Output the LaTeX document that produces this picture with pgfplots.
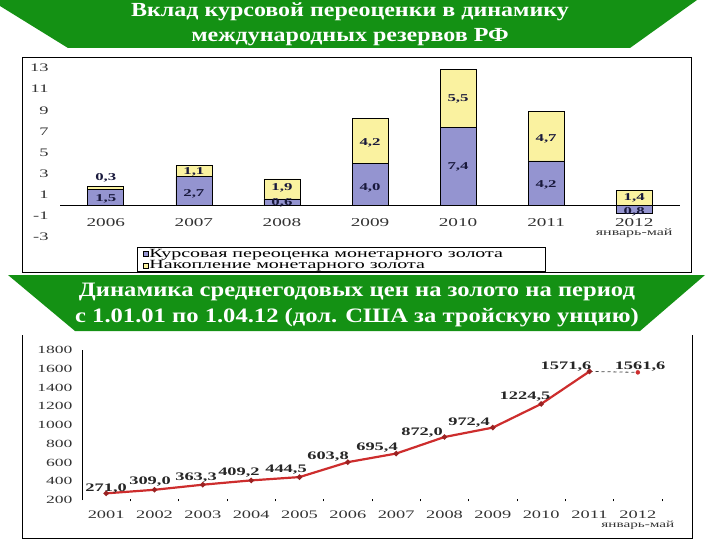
\documentclass[border=0pt]{standalone}
\usepackage{fontspec}
\setmainfont{Liberation Serif}
\newfontfamily\wide[FakeStretch=1.6]{Liberation Serif}
\newfontfamily\bwide[FakeStretch=1.2]{Liberation Serif}
\usepackage{pgfplots}
\pgfplotsset{compat=1.18}
\usepackage{pgfplotstable}

\definecolor{bannergreen}{RGB}{20,145,20}
\definecolor{barblue}{RGB}{148,148,208}
\definecolor{baryellow}{RGB}{250,242,160}
\definecolor{goldred}{RGB}{205,45,45}
\definecolor{lbl}{RGB}{25,25,60}

% total height of each bar (yellow drawn first), blue part drawn on top
\pgfplotstableread{
x total blue
0 1.8 1.5
1 3.8 2.7
2 2.5 0.6
3 8.2 4.0
4 12.9 7.4
5 8.9 4.2
6 1.4 -0.8
}\bars

\pgfplotstableread{
x y lab
0 2.6 0,3
0 0.6 1,5
1 3.2 1,1
1 1.1 2,7
2 1.7 1,9
2 0.2 0,6
3 5.9 4,2
3 1.7 4,0
4 10.1 5,5
4 3.6 7,4
5 6.3 4,7
5 1.9 4,2
6 0.75 1,4
6 -0.6 0,8
}\barlabels

\pgfplotstableread{
x y
0 271.0
1 309.0
2 363.3
3 409.2
4 444.5
5 603.8
6 695.4
7 872.0
8 972.4
9 1224.5
10 1571.6
}\gold

\pgfplotstableread{
x y lab
0.0 317 271,0
0.907 392 309,0
1.859 435 363,3
2.748 488 409,2
3.721 520 444,5
4.59 659 603,8
5.604 755 695,4
6.535 915 872,0
7.507 1021 972,4
8.666 1299 1224,5
9.514 1619 1571,6
11.046 1619 1561,6
}\goldlabels

\pgfplotsset{sqlegend/.style={legend image code/.code={\draw[##1, line width=0.5pt] (0pt,-2.5pt) rectangle (5pt,2.5pt);}}}

\begin{document}
\begin{tikzpicture}
\path[use as bounding box] (0pt,0pt) rectangle (720pt,-540pt);
% frames
\draw[black, line width=0.8pt] (22pt,-57pt) rectangle (691pt,-272pt);
\draw[black, line width=0.8pt] (22pt,-335pt) -- (22pt,-538pt) -- (692pt,-538pt) -- (692pt,-335pt);

% ---------- upper chart ----------
\begin{axis}[
  at={(60pt,-237pt)}, anchor=south west, scale only axis,
  width=620pt, height=169pt,
  xmin=-0.52, xmax=6.52, ymin=-3, ymax=13,
  axis x line=middle, axis y line=left,
  x axis line style={-, black, line width=0.8pt},
  y axis line style={draw=none},
  major tick length=0pt,
  xtick={0,...,6},
  xticklabels={2006,2007,2008,2009,2010,2011,{2012\\[-3pt]{\fontsize{10}{10}\selectfont январь-май}}},
  xticklabel style={align=center, font=\wide\fontsize{12}{12}\selectfont, text=black!80, anchor=north, yshift=-10pt},
  ytick={-3,-1,1,3,5,7,9,11,13},
  yticklabels={-3,-1,1,3,5,7,9,11,13},
  yticklabel style={font=\wide\fontsize{11.5}{12}\selectfont, text=black!80, anchor=east, xshift=-8pt},
  clip=false,
  legend cell align=left,
  reverse legend,
  legend style={at={(0.124,-0.207)}, anchor=south west, draw=black, line width=0.6pt,
    font=\wide\fontsize{12.5}{12.5}\selectfont, row sep=0.5pt, inner ysep=0.5pt, inner xsep=6pt,
    nodes={inner sep=0.8pt}},
]
\addplot[ybar, bar shift=0pt, bar width=36pt, fill=baryellow, draw=black, line width=0.7pt, sqlegend] table[x=x, y=total] {\bars};
\addlegendentry{Накопление монетарного золота}
\addplot[ybar, bar shift=0pt, bar width=36pt, fill=barblue, draw=black, line width=0.7pt, sqlegend] table[x=x, y=blue] {\bars};
\addlegendentry{Курсовая переоценка монетарного золота\hphantom{MM}}
\addplot[forget plot, draw=none, mark=none, nodes near coords, point meta=explicit symbolic,
  nodes near coords align={anchor=center},
  nodes near coords style={font=\wide\bfseries\fontsize{10.5}{11}\selectfont, text=lbl, inner sep=0pt}]
  table[x=x, y=y, meta=lab] {\barlabels};
\end{axis}

% ---------- lower chart ----------
\begin{axis}[
  at={(82pt,-500pt)}, anchor=south west, scale only axis,
  width=580pt, height=150pt,
  xmin=-0.5, xmax=11.5, ymin=200, ymax=1800,
  axis x line=bottom, axis y line=left,
  x axis line style={draw=none},
  y axis line style={-, black, line width=0.8pt},
  major tick length=0pt,
  minor tick length=2.5pt,
  minor xtick={0.5,1.5,...,11.5},
  minor tick style={black, line width=0.8pt},
  xtick={0,...,11},
  xticklabels={2001,2002,2003,2004,2005,2006,2007,2008,2009,2010,2011,{2012\\[-3pt]{\fontsize{9.5}{10}\selectfont январь-май}}},
  xticklabel style={align=center, font=\wide\fontsize{11.5}{12}\selectfont, text=black!80, anchor=north, yshift=-7pt},
  ytick={200,400,600,800,1000,1200,1400,1600,1800},
  yticklabels={200,400,600,800,1000,1200,1400,1600,1800},
  yticklabel style={font=\wide\fontsize{11}{12}\selectfont, text=black!80, anchor=east, xshift=-6pt},
  clip=false,
]
\addplot[goldred, line width=2.2pt, mark=*, mark size=1.4pt, mark options={fill=goldred!75!black, draw=goldred!75!black}] table[x=x, y=y] {\gold};
\addplot[black!75, line width=0.8pt, dash pattern=on 3pt off 3pt] coordinates {(10,1571.6) (11,1561.6)};
\addplot[only marks, mark=*, mark size=2pt, goldred] coordinates {(11,1561.6)};
\addplot[draw=none, mark=none, nodes near coords, point meta=explicit symbolic,
  nodes near coords align={anchor=center},
  nodes near coords style={font=\wide\bfseries\fontsize{11.5}{12}\selectfont, text=black!85, inner sep=0pt}]
  table[x=x, y=y, meta=lab] {\goldlabels};
\end{axis}

% ---------- banners ----------
\fill[bannergreen] (0pt,0pt) -- (697pt,0pt) -- (630pt,-48pt) -- (68pt,-48pt) -- (0pt,-6pt) -- cycle;
\node[text=white, font=\bwide\bfseries\fontsize{20}{25}\selectfont, align=center, anchor=center] at (350pt,-24pt)
  {Вклад курсовой переоценки в динамику\\международных резервов РФ};
\fill[bannergreen] (8pt,-275pt) -- (705pt,-275pt) -- (640pt,-331pt) -- (75pt,-331pt) -- cycle;
\node[text=white, font=\bwide\bfseries\fontsize{20.5}{26}\selectfont, align=center, anchor=center] at (357pt,-305pt)
  {Динамика среднегодовых цен на золото на период\\с 1.01.01 по 1.04.12 (дол. США за тройскую унцию)};
\end{tikzpicture}
\end{document}
